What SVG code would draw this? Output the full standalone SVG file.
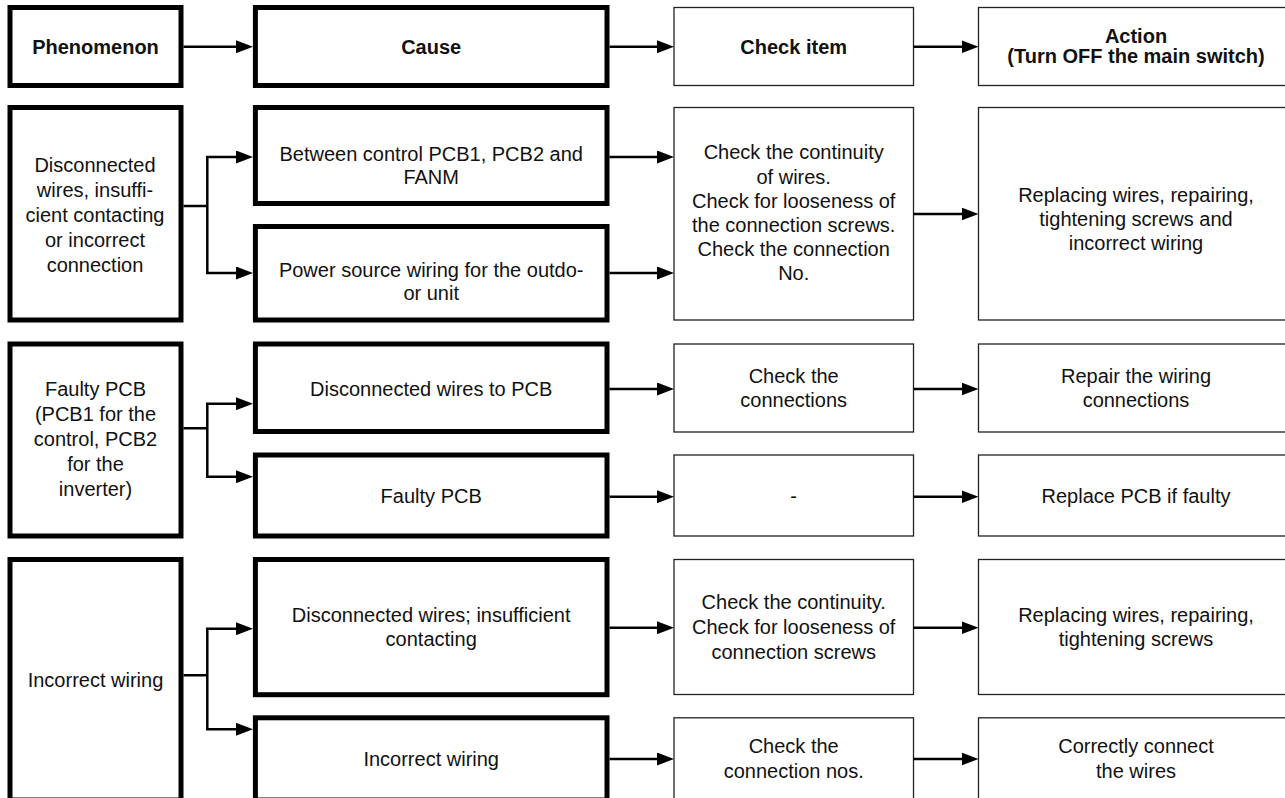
<svg xmlns="http://www.w3.org/2000/svg" width="1285" height="798" viewBox="0 0 1285 798">
  <style>
    .thick { fill: #fff; stroke: #000; stroke-width: 5; }
    .thin { fill: #fff; stroke: #222; stroke-width: 1.3; }
    text { font-family: "Liberation Sans", Arial, sans-serif; font-size: 20px; fill: #111; text-anchor: middle; }
    .hd { font-weight: bold; }
    .wire { fill: none; stroke: #000; stroke-width: 2.5; }
  </style>
  <defs>
    <marker id="arrow" markerUnits="userSpaceOnUse" markerWidth="17" markerHeight="13" refX="7" refY="6.5" orient="auto">
      <path d="M0,0 L17,6.5 L0,13 Z" fill="#000"/>
    </marker>
  </defs>
  <rect width="1285" height="798" fill="#fff"/>

  <!-- header row -->
  <g id="hdr-phenomenon">
    <rect class="thick" x="10" y="7.5" width="171" height="78"/>
    <text class="hd" x="95.5" y="54">Phenomenon</text>
  </g>
  <g id="hdr-cause">
    <rect class="thick" x="255.4" y="7.5" width="351.6" height="78"/>
    <text class="hd" x="431.2" y="54">Cause</text>
  </g>
  <g id="hdr-check">
    <rect class="thin" x="674" y="7.5" width="239.5" height="78"/>
    <text class="hd" x="793.7" y="54">Check item</text>
  </g>
  <g id="hdr-action">
    <rect class="thin" x="978.5" y="7.5" width="316" height="78"/>
    <text class="hd" x="1136" y="42.7">Action</text>
    <text class="hd" x="1136" y="63.3">(Turn OFF the main switch)</text>
  </g>

  <!-- block 1: wiring faults -->
  <g id="ph-wiring">
    <rect class="thick" x="10" y="107.5" width="171" height="212.5"/>
    <text><tspan x="95" y="171.7">Disconnected</tspan><tspan x="95" y="196.7">wires, insuffi-</tspan><tspan x="95" y="221.7">cient contacting</tspan><tspan x="95" y="246.7">or incorrect</tspan><tspan x="95" y="271.7">connection</tspan></text>
  </g>
  <g id="cause-pcb-fanm">
    <rect class="thick" x="255.4" y="107.5" width="351.6" height="96"/>
    <text><tspan x="431.2" y="160.5">Between control PCB1, PCB2 and</tspan><tspan x="431.2" y="184">FANM</tspan></text>
  </g>
  <g id="cause-power-source">
    <rect class="thick" x="255.4" y="226.5" width="351.6" height="93.5"/>
    <text><tspan x="431.2" y="277.3">Power source wiring for the outdo-</tspan><tspan x="431.2" y="300">or unit</tspan></text>
  </g>
  <g id="check-continuity">
    <rect class="thin" x="674" y="107.5" width="239.5" height="212.5"/>
    <text><tspan x="793.7" y="159.3">Check the continuity</tspan><tspan x="793.7" y="183.5">of wires.</tspan><tspan x="793.7" y="207.7">Check for looseness of</tspan><tspan x="793.7" y="231.9">the connection screws.</tspan><tspan x="793.7" y="256.1">Check the connection</tspan><tspan x="793.7" y="280.3">No.</tspan></text>
  </g>
  <g id="action-replace-wires">
    <rect class="thin" x="978.5" y="107.5" width="316" height="212.5"/>
    <text><tspan x="1136" y="201.7">Replacing wires, repairing,</tspan><tspan x="1136" y="225.9">tightening screws and</tspan><tspan x="1136" y="250.1">incorrect wiring</tspan></text>
  </g>

  <!-- block 2: faulty PCB -->
  <g id="ph-faulty-pcb">
    <rect class="thick" x="10" y="344" width="171" height="192"/>
    <text><tspan x="95.5" y="396">Faulty PCB</tspan><tspan x="95.5" y="421">(PCB1 for the</tspan><tspan x="95.5" y="446">control, PCB2</tspan><tspan x="95.5" y="471">for the</tspan><tspan x="95.5" y="496">inverter)</tspan></text>
  </g>
  <g id="cause-pcb-wires">
    <rect class="thick" x="255.4" y="344" width="351.6" height="87.5"/>
    <text x="431.2" y="396">Disconnected wires to PCB</text>
  </g>
  <g id="cause-pcb">
    <rect class="thick" x="255.4" y="455" width="351.6" height="81"/>
    <text x="431.2" y="502.7">Faulty PCB</text>
  </g>
  <g id="check-connections">
    <rect class="thin" x="674" y="344" width="239.5" height="88"/>
    <text><tspan x="793.7" y="382.7">Check the</tspan><tspan x="793.7" y="407.3">connections</tspan></text>
  </g>
  <g id="check-none">
    <rect class="thin" x="674" y="455" width="239.5" height="81"/>
    <text x="793.7" y="502.7">-</text>
  </g>
  <g id="action-repair">
    <rect class="thin" x="978.5" y="344" width="316" height="88"/>
    <text><tspan x="1136" y="382.7">Repair the wiring</tspan><tspan x="1136" y="407.3">connections</tspan></text>
  </g>
  <g id="action-replace-pcb">
    <rect class="thin" x="978.5" y="455" width="316" height="81"/>
    <text x="1136" y="502.7">Replace PCB if faulty</text>
  </g>

  <!-- block 3: incorrect wiring -->
  <g id="ph-incorrect">
    <rect class="thick" x="10" y="559.5" width="171" height="240.5"/>
    <text x="95.5" y="686.7">Incorrect wiring</text>
  </g>
  <g id="cause-contact">
    <rect class="thick" x="255.4" y="559.5" width="351.6" height="135.2"/>
    <text><tspan x="431.2" y="621.7">Disconnected wires; insufficient</tspan><tspan x="431.2" y="646">contacting</tspan></text>
  </g>
  <g id="cause-incorrect">
    <rect class="thick" x="255.4" y="717.8" width="351.6" height="82.2"/>
    <text x="431.2" y="766">Incorrect wiring</text>
  </g>
  <g id="check-screws">
    <rect class="thin" x="674" y="559.5" width="239.5" height="135"/>
    <text><tspan x="793.7" y="609.3">Check the continuity.</tspan><tspan x="793.7" y="634.3">Check for looseness of</tspan><tspan x="793.7" y="659.3">connection screws</tspan></text>
  </g>
  <g id="check-nos">
    <rect class="thin" x="674" y="717.8" width="239.5" height="85"/>
    <text><tspan x="793.7" y="752.7">Check the</tspan><tspan x="793.7" y="778.3">connection nos.</tspan></text>
  </g>
  <g id="action-tighten">
    <rect class="thin" x="978.5" y="559.5" width="316" height="135"/>
    <text><tspan x="1136" y="621.7">Replacing wires, repairing,</tspan><tspan x="1136" y="646">tightening screws</tspan></text>
  </g>
  <g id="action-connect">
    <rect class="thin" x="978.5" y="717.8" width="316" height="85"/>
    <text><tspan x="1136" y="752.7">Correctly connect</tspan><tspan x="1136" y="778.3">the wires</tspan></text>
  </g>

  <!-- connectors -->
  <g id="connectors">
    <path class="wire" marker-end="url(#arrow)" d="M183.5,46.7 H243"/>
    <path class="wire" marker-end="url(#arrow)" d="M609.5,46.7 H664"/>
    <path class="wire" marker-end="url(#arrow)" d="M913.5,46.7 H968.5"/>

    <path class="wire" d="M183.5,206 H207.3 M207.3,157 V273"/>
    <path class="wire" marker-end="url(#arrow)" d="M206,157 H243"/>
    <path class="wire" marker-end="url(#arrow)" d="M206,273 H243"/>
    <path class="wire" marker-end="url(#arrow)" d="M609.5,157 H664"/>
    <path class="wire" marker-end="url(#arrow)" d="M609.5,273 H664"/>
    <path class="wire" marker-end="url(#arrow)" d="M913.5,214 H968.5"/>

    <path class="wire" d="M183.5,428.3 H207.3 M207.3,403.7 V476.7"/>
    <path class="wire" marker-end="url(#arrow)" d="M206,403.7 H243"/>
    <path class="wire" marker-end="url(#arrow)" d="M206,476.7 H243"/>
    <path class="wire" marker-end="url(#arrow)" d="M609.5,389 H664"/>
    <path class="wire" marker-end="url(#arrow)" d="M609.5,496.7 H664"/>
    <path class="wire" marker-end="url(#arrow)" d="M913.5,389 H968.5"/>
    <path class="wire" marker-end="url(#arrow)" d="M913.5,496.7 H968.5"/>

    <path class="wire" d="M183.5,675.3 H207.3 M207.3,628.7 V729.3"/>
    <path class="wire" marker-end="url(#arrow)" d="M206,628.7 H243"/>
    <path class="wire" marker-end="url(#arrow)" d="M206,729.3 H243"/>
    <path class="wire" marker-end="url(#arrow)" d="M609.5,627.7 H664"/>
    <path class="wire" marker-end="url(#arrow)" d="M609.5,759 H664"/>
    <path class="wire" marker-end="url(#arrow)" d="M913.5,627.7 H968.5"/>
    <path class="wire" marker-end="url(#arrow)" d="M913.5,759 H968.5"/>
  </g>
</svg>
